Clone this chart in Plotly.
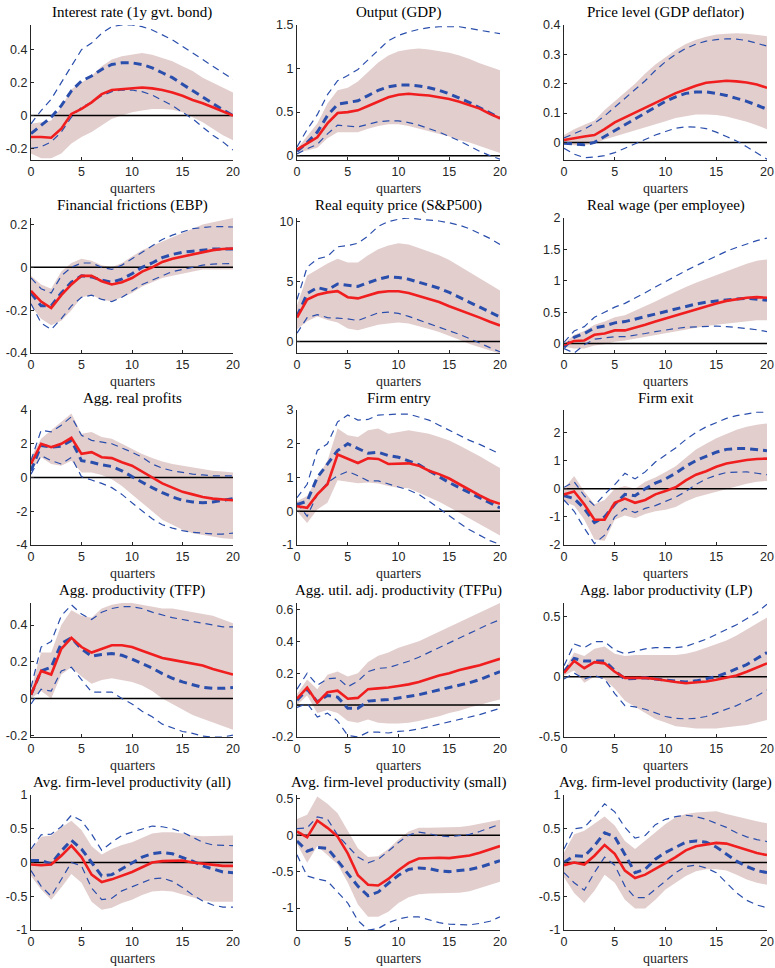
import plotly.graph_objects as go

quarters = list(range(21))

titles = [
    "Interest rate (1y gvt. bond)", "Output (GDP)", "Price level (GDP deflator)",
    "Financial frictions (EBP)", "Real equity price (S&P500)", "Real wage (per employee)",
    "Agg. real profits", "Firm entry", "Firm exit",
    "Agg. productivity (TFP)", "Agg. util. adj. productivity (TFPu)", "Agg. labor productivity (LP)",
    "Avg. firm-level productivity (all)", "Avg. firm-level productivity (small)", "Avg. firm-level productivity (large)",
]

# ---- Panel 1: Interest rate
p1_red = [-0.13, -0.13, -0.135, -0.08, 0.01, 0.04, 0.08, 0.13, 0.155, 0.16, 0.165, 0.17, 0.165, 0.155, 0.14, 0.12, 0.095, 0.075, 0.05, 0.025, 0.0]
p1_blue = [-0.11, -0.06, -0.01, 0.06, 0.15, 0.21, 0.24, 0.28, 0.31, 0.32, 0.32, 0.31, 0.29, 0.26, 0.23, 0.19, 0.15, 0.11, 0.07, 0.035, 0.0]
p1_bhi = [-0.05, 0.03, 0.1, 0.2, 0.3, 0.4, 0.44, 0.5, 0.54, 0.55, 0.55, 0.54, 0.52, 0.49, 0.46, 0.42, 0.38, 0.34, 0.3, 0.26, 0.22]
p1_blo = [-0.2, -0.19, -0.16, -0.1, -0.01, 0.05, 0.08, 0.12, 0.145, 0.155, 0.155, 0.145, 0.125, 0.095, 0.06, 0.02, -0.02, -0.07, -0.12, -0.16, -0.21]
p1_shi = [-0.05, -0.04, -0.03, 0.05, 0.16, 0.2, 0.24, 0.3, 0.34, 0.36, 0.37, 0.38, 0.37, 0.35, 0.33, 0.3, 0.27, 0.23, 0.2, 0.17, 0.14]
p1_slo = [-0.23, -0.26, -0.26, -0.23, -0.17, -0.13, -0.1, -0.06, -0.02, 0.0, 0.02, 0.03, 0.04, 0.04, 0.035, 0.02, -0.01, -0.04, -0.08, -0.12, -0.15]

# ---- Panel 2: Output
p2_red = [0.07, 0.14, 0.21, 0.37, 0.49, 0.5, 0.52, 0.57, 0.62, 0.67, 0.70, 0.71, 0.70, 0.69, 0.67, 0.65, 0.62, 0.58, 0.54, 0.48, 0.43]
p2_blue = [0.05, 0.15, 0.27, 0.46, 0.59, 0.61, 0.63, 0.69, 0.75, 0.79, 0.81, 0.81, 0.80, 0.78, 0.75, 0.71, 0.66, 0.61, 0.55, 0.49, 0.43]
p2_bhi = [0.1, 0.3, 0.47, 0.7, 0.86, 0.92, 0.99, 1.1, 1.22, 1.32, 1.38, 1.42, 1.45, 1.47, 1.48, 1.48, 1.48, 1.46, 1.44, 1.42, 1.40]
p2_blo = [0.02, 0.08, 0.13, 0.25, 0.35, 0.34, 0.33, 0.36, 0.39, 0.40, 0.40, 0.38, 0.35, 0.31, 0.27, 0.22, 0.17, 0.11, 0.05, 0.0, -0.04]
p2_shi = [0.08, 0.22, 0.37, 0.6, 0.75, 0.78, 0.85, 0.96, 1.07, 1.15, 1.2, 1.22, 1.23, 1.22, 1.2, 1.18, 1.15, 1.11, 1.06, 1.02, 0.98]
p2_slo = [0.04, 0.06, 0.09, 0.2, 0.27, 0.27, 0.27, 0.31, 0.34, 0.36, 0.36, 0.34, 0.31, 0.28, 0.25, 0.22, 0.18, 0.15, 0.11, 0.07, 0.03]

# ---- Panel 3: Price level
p3_red = [0.008, 0.015, 0.02, 0.025, 0.045, 0.068, 0.085, 0.1, 0.118, 0.135, 0.152, 0.168, 0.18, 0.193, 0.203, 0.207, 0.21, 0.208, 0.204, 0.197, 0.186]
p3_blue = [-0.003, -0.005, -0.008, 0.0, 0.02, 0.04, 0.06, 0.08, 0.1, 0.12, 0.14, 0.155, 0.167, 0.172, 0.172, 0.167, 0.16, 0.15, 0.14, 0.127, 0.113]
p3_bhi = [0.015, 0.03, 0.045, 0.065, 0.09, 0.12, 0.15, 0.18, 0.21, 0.245, 0.275, 0.3, 0.32, 0.335, 0.345, 0.35, 0.353, 0.352, 0.347, 0.338, 0.328]
p3_blo = [-0.02, -0.04, -0.052, -0.05, -0.045, -0.035, -0.02, -0.005, 0.01, 0.025, 0.037, 0.048, 0.053, 0.052, 0.047, 0.035, 0.02, 0.005, -0.015, -0.035, -0.057]
p3_shi = [0.025, 0.045, 0.06, 0.075, 0.11, 0.14, 0.17, 0.2, 0.235, 0.265, 0.29, 0.315, 0.335, 0.35, 0.36, 0.368, 0.37, 0.372, 0.37, 0.366, 0.362]
p3_slo = [-0.005, -0.01, -0.01, -0.005, 0.01, 0.02, 0.03, 0.04, 0.05, 0.06, 0.072, 0.083, 0.09, 0.095, 0.095, 0.093, 0.088, 0.08, 0.07, 0.058, 0.045]

# ---- Panel 4: Financial frictions
p4_red = [-0.11, -0.16, -0.19, -0.13, -0.08, -0.04, -0.04, -0.065, -0.08, -0.07, -0.05, -0.02, 0.0, 0.025, 0.04, 0.05, 0.06, 0.07, 0.08, 0.085, 0.088]
p4_blue = [-0.12, -0.18, -0.18, -0.12, -0.07, -0.04, -0.045, -0.06, -0.07, -0.055, -0.03, 0.0, 0.02, 0.045, 0.06, 0.07, 0.075, 0.08, 0.085, 0.085, 0.085]
p4_bhi = [-0.05, -0.1, -0.12, -0.04, 0.0, 0.02, 0.02, 0.0, -0.01, 0.01, 0.04, 0.07, 0.1, 0.13, 0.15, 0.165, 0.18, 0.185, 0.19, 0.19, 0.188]
p4_blo = [-0.17, -0.26, -0.29, -0.24, -0.18, -0.14, -0.13, -0.15, -0.16, -0.14, -0.11, -0.08, -0.06, -0.04, -0.02, -0.01, 0.0, 0.01, 0.015, 0.017, 0.018]
p4_shi = [-0.04, -0.08, -0.1, -0.02, 0.02, 0.04, 0.03, 0.01, 0.0, 0.02, 0.05, 0.08, 0.1, 0.12, 0.14, 0.16, 0.18, 0.2, 0.21, 0.22, 0.23]
p4_slo = [-0.18, -0.24, -0.27, -0.25, -0.2, -0.14, -0.13, -0.15, -0.16, -0.14, -0.12, -0.09, -0.07, -0.05, -0.04, -0.03, -0.02, -0.01, -0.01, -0.01, -0.01]

# ---- Panel 5: Real equity price
p5_red = [2.0, 3.5, 3.9, 4.1, 4.2, 3.7, 3.6, 3.85, 4.1, 4.2, 4.2, 4.05, 3.8, 3.5, 3.3, 2.95, 2.65, 2.35, 2.0, 1.65, 1.35]
p5_blue = [2.1, 4.0, 4.5, 4.3, 4.8, 4.7, 4.6, 4.9, 5.2, 5.4, 5.35, 5.2, 4.95, 4.7, 4.45, 4.1, 3.7, 3.3, 2.9, 2.5, 2.05]
p5_bhi = [3.5, 6.2, 6.9, 7.1, 7.9, 8.0, 8.2, 8.8, 9.6, 10.0, 10.2, 10.3, 10.2, 10.15, 10.05, 9.9, 9.7, 9.4, 9.0, 8.6, 8.1]
p5_blo = [0.7, 2.0, 2.25, 2.0, 1.95, 1.9, 1.75, 2.1, 2.4, 2.45, 2.35, 2.1, 1.8, 1.5, 1.25, 0.95, 0.6, 0.25, -0.15, -0.5, -0.85]
p5_shi = [3.0, 5.5, 6.0, 6.5, 6.9, 6.6, 6.6, 7.2, 7.7, 8.0, 8.2, 8.1, 7.8, 7.5, 7.2, 6.8, 6.3, 5.8, 5.3, 4.8, 4.25]
p5_slo = [1.0, 1.7, 2.1, 1.8, 1.6, 1.1, 0.95, 1.2, 1.4, 1.5, 1.6, 1.5, 1.3, 1.05, 0.8, 0.5, 0.15, -0.2, -0.5, -0.75, -1.0]

# ---- Panel 6: Real wage
p6_red = [-0.02, 0.04, 0.05, 0.14, 0.16, 0.21, 0.21, 0.25, 0.3, 0.35, 0.4, 0.45, 0.5, 0.55, 0.6, 0.64, 0.68, 0.71, 0.73, 0.74, 0.73]
p6_blue = [-0.06, 0.1, 0.16, 0.25, 0.28, 0.33, 0.35, 0.39, 0.43, 0.47, 0.52, 0.56, 0.6, 0.63, 0.66, 0.68, 0.7, 0.71, 0.72, 0.71, 0.69]
p6_bhi = [0.02, 0.2, 0.27, 0.42, 0.5, 0.58, 0.64, 0.72, 0.81, 0.9, 0.99, 1.08, 1.16, 1.24, 1.32, 1.4, 1.47, 1.53, 1.59, 1.64, 1.68]
p6_blo = [-0.08, -0.15, -0.02, 0.07, 0.09, 0.11, 0.11, 0.13, 0.16, 0.19, 0.22, 0.24, 0.26, 0.27, 0.28, 0.28, 0.27, 0.26, 0.24, 0.22, 0.19]
p6_shi = [0.0, 0.14, 0.2, 0.3, 0.35, 0.42, 0.45, 0.52, 0.6, 0.67, 0.75, 0.83, 0.9, 0.97, 1.03, 1.1, 1.16, 1.22, 1.27, 1.32, 1.34]
p6_slo = [-0.05, -0.08, -0.08, -0.03, -0.01, 0.03, 0.05, 0.08, 0.11, 0.14, 0.17, 0.2, 0.23, 0.26, 0.28, 0.3, 0.32, 0.34, 0.36, 0.37, 0.37]

# ---- Panel 7: Agg. real profits
p7_red = [0.8, 2.0, 1.8, 2.0, 2.35, 1.4, 1.5, 1.2, 1.15, 0.9, 0.7, 0.35, 0.05, -0.35, -0.6, -0.85, -1.0, -1.15, -1.25, -1.3, -1.35]
p7_blue = [0.4, 1.9, 1.8, 1.85, 2.2, 1.0, 0.9, 0.75, 0.65, 0.4, 0.05, -0.3, -0.6, -0.9, -1.15, -1.35, -1.45, -1.5, -1.45, -1.35, -1.25]
p7_bhi = [1.0, 2.8, 2.7, 3.1, 3.6, 2.5, 2.2, 2.1, 2.0, 1.75, 1.5, 1.2, 0.8, 0.55, 0.4, 0.3, 0.2, 0.15, 0.1, 0.1, 0.1]
p7_blo = [0.2, 1.3, 1.0, 0.8, 1.2, 0.05, -0.15, -0.35, -0.6, -1.0, -1.5, -2.0, -2.45, -2.8, -3.0, -3.15, -3.25, -3.3, -3.35, -3.35, -3.3]
p7_shi = [1.2, 2.3, 2.8, 3.3, 3.8, 2.6, 2.7, 2.4, 2.3, 2.0, 1.7, 1.4, 1.15, 0.95, 0.8, 0.7, 0.6, 0.5, 0.4, 0.35, 0.3]
p7_slo = [0.4, 1.2, 0.8, 0.7, 1.0, 0.3, 0.3, 0.15, -0.1, -0.5, -1.0, -1.5, -2.0, -2.5, -2.8, -3.1, -3.3, -3.4, -3.5, -3.6, -3.65]

# ---- Panel 8: Firm entry
p8_red = [0.15, 0.1, 0.5, 0.8, 1.68, 1.55, 1.43, 1.57, 1.55, 1.4, 1.4, 1.42, 1.35, 1.2, 1.1, 0.97, 0.8, 0.63, 0.47, 0.32, 0.22]
p8_blue = [0.2, 0.3, 1.0, 1.4, 1.8, 2.0, 1.87, 1.72, 1.75, 1.65, 1.6, 1.5, 1.38, 1.2, 1.02, 0.85, 0.7, 0.55, 0.4, 0.25, 0.1]
p8_bhi = [0.4, 0.8, 1.8, 2.0, 2.65, 2.85, 2.7, 2.72, 2.85, 2.87, 2.88, 2.88, 2.8, 2.7, 2.55, 2.4, 2.25, 2.1, 1.98, 1.85, 1.7]
p8_blo = [0.25, -0.15, 0.5, 0.85, 1.05, 1.18, 1.05, 0.9, 0.9, 0.82, 0.72, 0.63, 0.5, 0.3, 0.08, -0.15, -0.35, -0.55, -0.72, -0.87, -0.98]
p8_shi = [0.3, 0.45, 1.0, 1.5, 2.45, 2.25, 2.2, 2.4, 2.45, 2.3, 2.35, 2.4, 2.35, 2.3, 2.2, 2.1, 1.95, 1.8, 1.63, 1.45, 1.28]
p8_slo = [0.0, -0.35, 0.05, 0.25, 0.92, 0.88, 0.83, 0.85, 0.82, 0.75, 0.7, 0.68, 0.55, 0.42, 0.28, 0.12, -0.05, -0.22, -0.4, -0.55, -0.72]

# ---- Panel 9: Firm exit
p9_red = [-0.2, -0.1, -0.55, -1.1, -1.1, -0.5, -0.35, -0.5, -0.4, -0.2, -0.08, 0.05, 0.3, 0.5, 0.62, 0.78, 0.9, 0.97, 1.02, 1.06, 1.07]
p9_blue = [-0.25, -0.35, -0.7, -1.2, -1.0, -0.55, -0.2, -0.25, 0.0, 0.2, 0.35, 0.55, 0.8, 1.0, 1.15, 1.3, 1.4, 1.43, 1.43, 1.4, 1.35]
p9_bhi = [0.05, 0.25, -0.25, -0.6, -0.2, 0.15, 0.55, 0.35, 0.6, 0.95, 1.2, 1.45, 1.75, 2.0, 2.2, 2.35, 2.5, 2.6, 2.65, 2.72, 2.72]
p9_blo = [-0.4, -0.8, -1.4, -1.95, -1.65, -1.0, -0.7, -0.85, -0.7, -0.6, -0.45, -0.3, -0.1, 0.15, 0.35, 0.48, 0.58, 0.6, 0.6, 0.55, 0.5]
p9_shi = [0.0, 0.45, -0.1, -0.55, -0.4, 0.0, 0.1, 0.0, 0.25, 0.4, 0.6, 0.8, 1.1, 1.4, 1.6, 1.8, 1.95, 2.1, 2.2, 2.28, 2.32]
p9_slo = [-0.45, -0.6, -1.1, -1.8, -1.85, -1.1, -0.95, -1.05, -0.9, -0.8, -0.75, -0.65, -0.45, -0.3, -0.2, -0.1, 0.0, 0.1, 0.18, 0.25, 0.28]

# ---- Panel 10: TFP
p10_red = [0.02, 0.15, 0.13, 0.27, 0.33, 0.28, 0.25, 0.27, 0.29, 0.29, 0.28, 0.26, 0.24, 0.22, 0.21, 0.2, 0.19, 0.18, 0.16, 0.145, 0.13]
p10_blue = [0.02, 0.15, 0.17, 0.3, 0.33, 0.27, 0.23, 0.24, 0.245, 0.235, 0.215, 0.19, 0.165, 0.135, 0.11, 0.09, 0.075, 0.06, 0.055, 0.055, 0.06]
p10_bhi = [0.06, 0.28, 0.31, 0.45, 0.51, 0.46, 0.43, 0.47, 0.49, 0.5, 0.5, 0.49, 0.47, 0.455, 0.44, 0.43, 0.42, 0.41, 0.4, 0.39, 0.39]
p10_blo = [-0.03, 0.05, 0.04, 0.15, 0.17, 0.1, 0.035, 0.035, 0.035, 0.0, -0.03, -0.07, -0.1, -0.14, -0.16, -0.18, -0.19, -0.205, -0.21, -0.21, -0.2]
p10_shi = [0.05, 0.25, 0.25, 0.4, 0.48, 0.45, 0.44, 0.49, 0.51, 0.52, 0.52, 0.51, 0.5, 0.49, 0.49, 0.48, 0.47, 0.46, 0.45, 0.43, 0.41]
p10_slo = [0.0, 0.04, 0.0, 0.13, 0.17, 0.12, 0.08, 0.1, 0.11, 0.1, 0.09, 0.07, 0.04, 0.0, -0.03, -0.06, -0.09, -0.11, -0.13, -0.15, -0.17]

# ---- Panel 11: TFPu
p11_red = [0.04, 0.11, 0.015, 0.08, 0.09, 0.04, 0.045, 0.1, 0.105, 0.11, 0.12, 0.13, 0.145, 0.165, 0.185, 0.2, 0.22, 0.235, 0.25, 0.27, 0.29]
p11_blue = [0.03, 0.1, 0.02, 0.06, 0.05, -0.02, -0.02, 0.025, 0.03, 0.035, 0.045, 0.055, 0.065, 0.08, 0.095, 0.11, 0.125, 0.14, 0.16, 0.185, 0.21]
p11_bhi = [0.1, 0.2, 0.125, 0.165, 0.17, 0.115, 0.15, 0.21, 0.23, 0.235, 0.255, 0.275, 0.3, 0.33, 0.36, 0.39, 0.42, 0.45, 0.48, 0.51, 0.535]
p11_blo = [-0.015, 0.01, -0.075, -0.05, -0.1, -0.19, -0.2, -0.17, -0.17, -0.175, -0.165, -0.16, -0.15, -0.135, -0.12, -0.105, -0.09, -0.075, -0.06, -0.04, -0.02]
p11_shi = [0.07, 0.16, 0.1, 0.19, 0.21, 0.18, 0.2, 0.27, 0.31, 0.33, 0.36, 0.38, 0.4, 0.43, 0.46, 0.49, 0.52, 0.55, 0.58, 0.61, 0.64]
p11_slo = [0.0, 0.06, -0.05, -0.03, -0.05, -0.1, -0.11, -0.09, -0.11, -0.115, -0.115, -0.11, -0.1, -0.085, -0.07, -0.05, -0.035, -0.015, 0.0, 0.02, 0.035]

# ---- Panel 12: LP
p12_red = [0.03, 0.13, 0.07, 0.12, 0.11, 0.04, -0.01, -0.01, -0.01, -0.02, -0.035, -0.045, -0.055, -0.05, -0.04, -0.025, -0.01, 0.01, 0.04, 0.075, 0.11]
p12_blue = [0.04, 0.15, 0.13, 0.13, 0.13, 0.05, -0.02, -0.015, -0.01, -0.02, -0.03, -0.04, -0.045, -0.035, -0.02, 0.0, 0.03, 0.065, 0.1, 0.15, 0.2]
p12_bhi = [0.09, 0.27, 0.24, 0.29, 0.29, 0.22, 0.19, 0.21, 0.23, 0.24, 0.24, 0.24, 0.25, 0.28, 0.31, 0.35, 0.39, 0.43, 0.48, 0.53, 0.6]
p12_blo = [-0.02, 0.03, -0.02, 0.01, -0.02, -0.14, -0.24, -0.25, -0.27, -0.3, -0.33, -0.345, -0.35, -0.345, -0.33, -0.3, -0.27, -0.24, -0.2, -0.16, -0.11]
p12_shi = [0.05, 0.2, 0.17, 0.23, 0.25, 0.19, 0.17, 0.18, 0.18, 0.18, 0.18, 0.18, 0.19, 0.21, 0.24, 0.27, 0.3, 0.34, 0.39, 0.44, 0.49]
p12_slo = [0.01, 0.05, -0.05, 0.0, -0.02, -0.1, -0.2, -0.25, -0.3, -0.35, -0.38, -0.41, -0.42, -0.43, -0.43, -0.43, -0.42, -0.41, -0.4, -0.38, -0.36]

# ---- Panel 13: firm-level (all)
p13_red = [-0.03, -0.04, -0.03, 0.1, 0.25, 0.08, -0.18, -0.29, -0.25, -0.2, -0.14, -0.07, 0.0, 0.02, 0.03, 0.03, 0.0, -0.02, -0.035, -0.05, -0.05]
p13_blue = [0.03, 0.03, -0.02, 0.17, 0.33, 0.2, 0.0, -0.2, -0.18, -0.09, 0.0, 0.08, 0.13, 0.15, 0.13, 0.08, 0.02, -0.05, -0.1, -0.14, -0.15]
p13_bhi = [0.2, 0.41, 0.42, 0.53, 0.7, 0.62, 0.42, 0.18, 0.3, 0.4, 0.45, 0.5, 0.54, 0.53, 0.5, 0.45, 0.38, 0.3, 0.26, 0.25, 0.25]
p13_blo = [-0.12, -0.35, -0.5, -0.25, 0.0, -0.05, -0.38, -0.55, -0.53, -0.42, -0.36, -0.3, -0.24, -0.23, -0.28, -0.37, -0.48, -0.57, -0.63, -0.66, -0.66]
p13_shi = [0.18, 0.38, 0.4, 0.52, 0.62, 0.48, 0.24, 0.12, 0.2, 0.26, 0.3, 0.37, 0.43, 0.45, 0.45, 0.43, 0.4, 0.39, 0.39, 0.4, 0.4]
p13_slo = [-0.2, -0.4, -0.55, -0.37, -0.17, -0.3, -0.58, -0.7, -0.67, -0.6, -0.55, -0.48, -0.43, -0.42, -0.43, -0.47, -0.52, -0.56, -0.58, -0.58, -0.58]

# ---- Panel 14: firm-level (small)
p14_red = [0.05, -0.03, 0.2, 0.1, -0.02, -0.25, -0.55, -0.68, -0.69, -0.6, -0.48, -0.38, -0.32, -0.31, -0.31, -0.315, -0.3, -0.28, -0.24, -0.2, -0.15]
p14_blue = [-0.08, -0.22, -0.17, -0.18, -0.35, -0.53, -0.7, -0.83, -0.78, -0.66, -0.55, -0.47, -0.45, -0.46, -0.49, -0.5, -0.49, -0.47, -0.44, -0.39, -0.35]
p14_bhi = [0.09, 0.1, 0.25, 0.22, 0.0, -0.15, -0.3, -0.38, -0.33, -0.22, -0.1, 0.0, 0.04, 0.02, -0.01, -0.02, -0.01, 0.01, 0.05, 0.1, 0.15]
p14_blo = [-0.27, -0.56, -0.6, -0.63, -0.78, -0.93, -1.17, -1.3, -1.28, -1.2, -1.15, -1.12, -1.12, -1.16, -1.2, -1.22, -1.23, -1.23, -1.21, -1.18, -1.12]
p14_shi = [0.22, 0.28, 0.53, 0.43, 0.3, 0.05, -0.18, -0.3, -0.29, -0.19, -0.06, 0.05, 0.1, 0.1, 0.1, 0.1, 0.11, 0.13, 0.16, 0.19, 0.21]
p14_slo = [-0.12, -0.38, -0.15, -0.27, -0.4, -0.65, -0.95, -1.12, -1.12, -1.05, -0.93, -0.85, -0.81, -0.8, -0.8, -0.8, -0.79, -0.77, -0.73, -0.68, -0.64]

# ---- Panel 15: firm-level (large)
p15_red = [-0.04, 0.0, -0.03, 0.1, 0.26, 0.13, -0.12, -0.23, -0.18, -0.1, -0.01, 0.08, 0.18, 0.24, 0.27, 0.29, 0.28, 0.23, 0.18, 0.14, 0.11]
p15_blue = [0.0, 0.1, 0.09, 0.25, 0.44, 0.38, 0.12, -0.15, -0.1, 0.05, 0.15, 0.23, 0.3, 0.32, 0.3, 0.23, 0.13, 0.02, -0.06, -0.12, -0.15]
p15_bhi = [0.2, 0.5, 0.52, 0.68, 0.87, 0.75, 0.52, 0.36, 0.4, 0.56, 0.64, 0.68, 0.7, 0.68, 0.64, 0.58, 0.52, 0.44, 0.38, 0.34, 0.31]
p15_blo = [-0.15, -0.3, -0.41, -0.15, 0.08, -0.04, -0.35, -0.52, -0.52, -0.4, -0.27, -0.15, -0.06, -0.04, -0.08, -0.15, -0.3, -0.45, -0.56, -0.63, -0.67]
p15_shi = [0.15, 0.42, 0.47, 0.58, 0.68, 0.55, 0.32, 0.2, 0.32, 0.45, 0.57, 0.67, 0.72, 0.74, 0.75, 0.76, 0.72, 0.68, 0.64, 0.61, 0.58]
p15_slo = [-0.22, -0.45, -0.6, -0.42, -0.18, -0.3, -0.55, -0.68, -0.68, -0.55, -0.4, -0.3, -0.2, -0.13, -0.1, -0.1, -0.12, -0.18, -0.25, -0.3, -0.33]

# y-axis tick labels per panel
ytick_vals = [
    [-0.2, 0, 0.2, 0.4], [0, 0.5, 1, 1.5], [0, 0.1, 0.2, 0.3, 0.4],
    [-0.4, -0.2, 0, 0.2], [0, 5, 10], [0, 0.5, 1, 1.5, 2],
    [-4, -2, 0, 2, 4], [-1, 0, 1, 2, 3], [-2, -1, 0, 1, 2],
    [-0.2, 0, 0.2, 0.4], [-0.2, 0, 0.2, 0.4, 0.6], [-0.5, 0, 0.5],
    [-1, -0.5, 0, 0.5, 1], [-1, -0.5, 0, 0.5], [-1, -0.5, 0, 0.5, 1],
]
ytick_text = [
    ["-0.2", "0", "0.2", "0.4"], ["0", "0.5", "1", "1.5"], ["0", "0.1", "0.2", "0.3", "0.4"],
    ["-0.4", "-0.2", "0", "0.2"], ["0", "5", "10"], ["0", "0.5", "1", "1.5", "2"],
    ["-4", "-2", "0", "2", "4"], ["-1", "0", "1", "2", "3"], ["-2", "-1", "0", "1", "2"],
    ["-0.2", "0", "0.2", "0.4"], ["-0.2", "0", "0.2", "0.4", "0.6"], ["-0.5", "0", "0.5"],
    ["-1", "-0.5", "0", "0.5", "1"], ["-1", "-0.5", "0", "0.5"], ["-1", "-0.5", "0", "0.5", "1"],
]
xtick_vals = [0, 5, 10, 15, 20]
xtick_text = ["0", "5", "10", "15", "20"]

# axis limits
ylims = [
    [-0.27, 0.55], [-0.05, 1.5], [-0.06, 0.4],
    [-0.4, 0.23], [-0.95, 10.3], [-0.15, 2.0],
    [-4, 4], [-1, 3], [-2, 2.8],
    [-0.21, 0.52], [-0.2, 0.64], [-0.5, 0.61],
    [-1, 1], [-1.3, 0.55], [-1, 1],
]

panels = [
    (p1_red, p1_blue, p1_bhi, p1_blo, p1_shi, p1_slo),
    (p2_red, p2_blue, p2_bhi, p2_blo, p2_shi, p2_slo),
    (p3_red, p3_blue, p3_bhi, p3_blo, p3_shi, p3_slo),
    (p4_red, p4_blue, p4_bhi, p4_blo, p4_shi, p4_slo),
    (p5_red, p5_blue, p5_bhi, p5_blo, p5_shi, p5_slo),
    (p6_red, p6_blue, p6_bhi, p6_blo, p6_shi, p6_slo),
    (p7_red, p7_blue, p7_bhi, p7_blo, p7_shi, p7_slo),
    (p8_red, p8_blue, p8_bhi, p8_blo, p8_shi, p8_slo),
    (p9_red, p9_blue, p9_bhi, p9_blo, p9_shi, p9_slo),
    (p10_red, p10_blue, p10_bhi, p10_blo, p10_shi, p10_slo),
    (p11_red, p11_blue, p11_bhi, p11_blo, p11_shi, p11_slo),
    (p12_red, p12_blue, p12_bhi, p12_blo, p12_shi, p12_slo),
    (p13_red, p13_blue, p13_bhi, p13_blo, p13_shi, p13_slo),
    (p14_red, p14_blue, p14_bhi, p14_blo, p14_shi, p14_slo),
    (p15_red, p15_blue, p15_bhi, p15_blo, p15_shi, p15_slo),
]

W, H = 775, 968
col_px = [(31, 233), (297, 500), (564, 767)]
row_px = [(25, 160), (218, 353), (410, 545), (603, 737), (795, 930)]

BAND = "rgb(227,206,206)"
RED = "rgb(240,30,30)"
BLUE = "rgb(42,78,172)"
AXC = "rgb(38,38,38)"
SERIF = "Liberation Serif"
SANS = "Liberation Sans"

fig = go.Figure()
layout = dict(
    width=W, height=H, margin=dict(l=0, r=0, t=0, b=0, autoexpand=False),
    paper_bgcolor="white", plot_bgcolor="white", showlegend=False,
)
annotations = []

for i, (red, blue, bhi, blo, shi, slo) in enumerate(panels):
    r, c = divmod(i, 3)
    k = "" if i == 0 else str(i + 1)
    xa, ya = "x" + k, "y" + k
    x0, x1 = col_px[c]
    y0, y1 = row_px[r]
    layout["xaxis" + k] = dict(
        domain=[x0 / W, x1 / W], anchor=ya, range=[0, 20],
        tickvals=xtick_vals, ticktext=xtick_text, ticks="inside", ticklen=3,
        tickcolor=AXC, tickwidth=1, showline=True, linecolor=AXC, linewidth=1.2,
        showgrid=False, zeroline=False, fixedrange=True, automargin=False,
        tickfont=dict(family=SANS, size=12.5, color=AXC),
    )
    layout["yaxis" + k] = dict(
        domain=[1 - y1 / H, 1 - y0 / H], anchor=xa, range=ylims[i],
        tickvals=ytick_vals[i], ticktext=ytick_text[i], ticks="inside", ticklen=3,
        tickcolor=AXC, tickwidth=1, showline=True, linecolor=AXC, linewidth=1.2,
        showgrid=False, zeroline=False, fixedrange=True, automargin=False,
        tickfont=dict(family=SANS, size=12.5, color=AXC),
    )
    # shaded band
    fig.add_trace(go.Scatter(x=quarters, y=shi, xaxis=xa, yaxis=ya, mode="lines",
                             line=dict(width=0, color=BAND), hoverinfo="skip"))
    fig.add_trace(go.Scatter(x=quarters, y=slo, xaxis=xa, yaxis=ya, mode="lines",
                             line=dict(width=0, color=BAND), fill="tonexty",
                             fillcolor=BAND, hoverinfo="skip"))
    # zero line
    fig.add_trace(go.Scatter(x=[quarters[0], quarters[-1]], y=[0, 0], xaxis=xa, yaxis=ya,
                             mode="lines", line=dict(width=1.5, color="black")))
    # thin dashed bounds
    for b in (bhi, blo):
        fig.add_trace(go.Scatter(x=quarters, y=b, xaxis=xa, yaxis=ya, mode="lines",
                                 line=dict(width=1.2, color=BLUE, dash="7px,5px")))
    # thick dashed
    fig.add_trace(go.Scatter(x=quarters, y=blue, xaxis=xa, yaxis=ya, mode="lines",
                             line=dict(width=3, color=BLUE, dash="8px,5px")))
    # red line
    fig.add_trace(go.Scatter(x=quarters, y=red, xaxis=xa, yaxis=ya, mode="lines",
                             line=dict(width=2.6, color=RED)))
    # title
    annotations.append(dict(
        text=titles[i], x=(x0 + x1) / 2 / W, y=1 - (y0 - 2) / H, xref="paper", yref="paper",
        xanchor="center", yanchor="bottom", showarrow=False,
        font=dict(family=SERIF, size=15, color="black"),
    ))
    # x label
    annotations.append(dict(
        text="quarters", x=(x0 + x1) / 2 / W, y=1 - (y1 + 19) / H, xref="paper", yref="paper",
        xanchor="center", yanchor="top", showarrow=False,
        font=dict(family=SERIF, size=14, color=AXC),
    ))

layout["annotations"] = annotations
fig.update_layout(**layout)
fig.write_html(
    "out.html",
    config={"displayModeBar": False},
    post_script="document.body.style.margin='0';document.body.style.padding='0';"
                "document.body.style.overflow='hidden';",
)
